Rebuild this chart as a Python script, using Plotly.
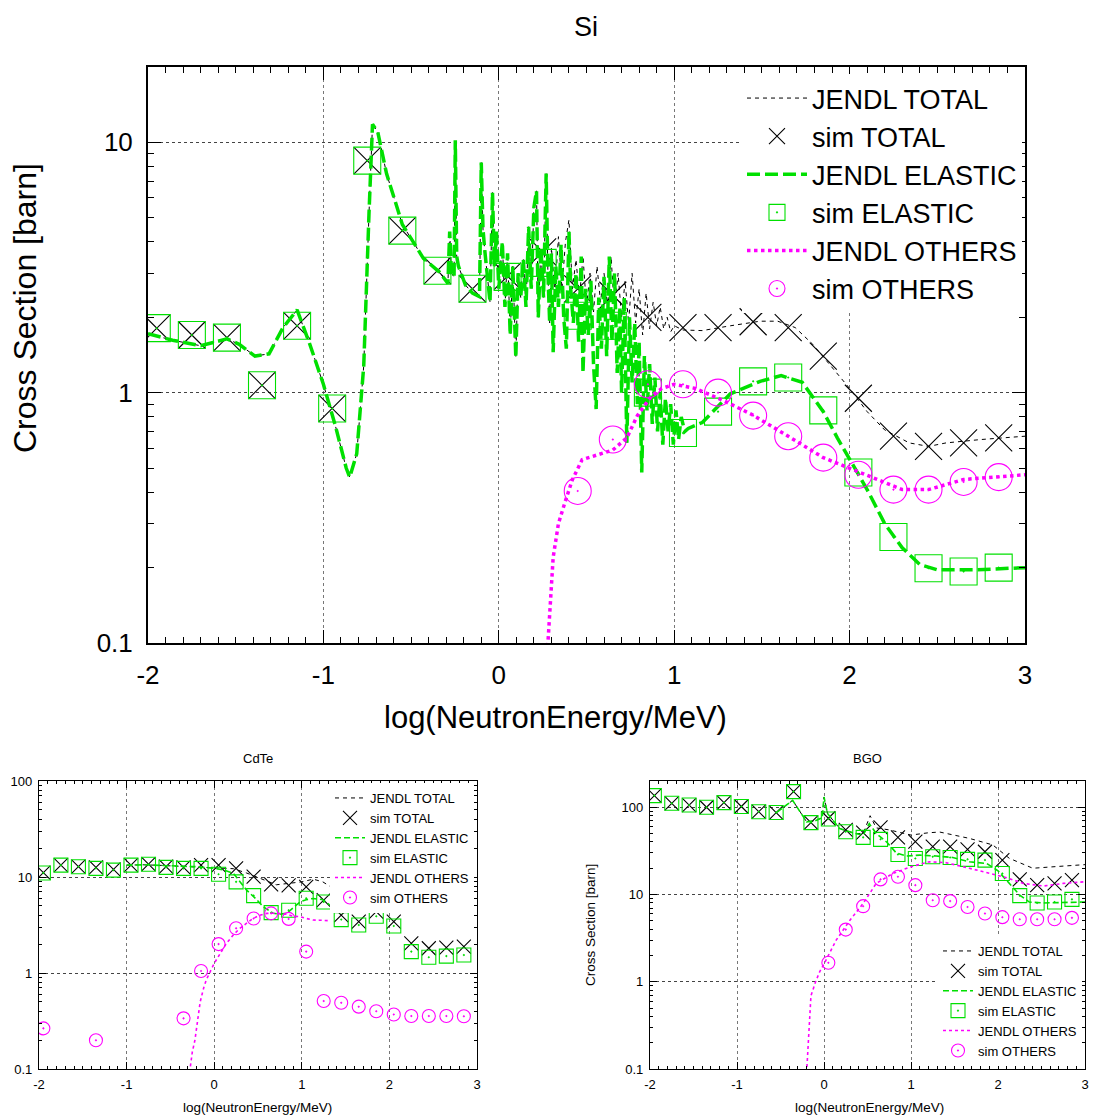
import plotly.graph_objects as go

# ---------------- data ----------------
sim_x = [-1.95, -1.75, -1.55, -1.35, -1.15, -0.95, -0.75, -0.55, -0.35, -0.15,
         0.05, 0.25, 0.45, 0.65, 0.85, 1.05, 1.25, 1.45, 1.65, 1.85,
         2.05, 2.25, 2.45, 2.65, 2.85]
x_tickvals = [-2, -1, 0, 1, 2, 3]
x_ticktext = ["-2", "-1", "0", "1", "2", "3"]
y_tickvals_si = [0.1, 1, 10]
y_ticktext_si = ["0.1", "1", "10"]
y_tickvals_sm = [0.1, 1, 10, 100]
y_ticktext_sm = ["0.1", "1", "10", "100"]
series_names = ["JENDL TOTAL", "sim TOTAL", "JENDL ELASTIC", "sim ELASTIC", "JENDL OTHERS", "sim OTHERS"]
panel_titles = ["Si", "CdTe", "BGO"]
x_title = "log(NeutronEnergy/MeV)"
y_title = "Cross Section [barn]"

# Si
si_sim_total = [1.81, 1.70, 1.66, 1.07, 1.85, 0.865, 8.45, 4.44, 3.07, 2.60,
                2.92, 3.65, 2.60, 2.45, 2.0, 1.82, 1.82, 1.92, 1.82, 1.40,
                0.95, 0.67, 0.61, 0.63, 0.66]
si_sim_elastic = [1.81, 1.70, 1.66, 1.07, 1.85, 0.865, 8.45, 4.44, 3.07, 2.60,
                  2.90, 3.3, 2.03, 1.85, 1.0, 0.69, 0.84, 1.11, 1.15, 0.85,
                  0.48, 0.265, 0.199, 0.193, 0.200]
si_sim_others = [None, None, None, None, None, None, None, None, None, None,
                 None, None, 0.405, 0.65, 1.08, 1.08, 1.0, 0.81, 0.67, 0.55,
                 0.47, 0.41, 0.41, 0.44, 0.46]
si_el_x = [-2.0, -1.86, -1.70, -1.55, -1.48, -1.39, -1.31, -1.23, -1.15, -1.08,
           -1.0, -0.93, -0.87, -0.85, -0.81, -0.77, -0.74, -0.72, -0.69, -0.64,
           -0.55, -0.43, -0.34, -0.29, -0.285, -0.28, -0.27, -0.255, -0.248, -0.24,
           -0.23, -0.19, -0.15, -0.11, -0.10, -0.09, -0.08, -0.06, -0.05, -0.036,
           -0.025, -0.013,
           0.0, 0.02, 0.035, 0.05, 0.065, 0.08, 0.097, 0.11, 0.125, 0.14,
           0.155, 0.17, 0.185, 0.20, 0.215, 0.225, 0.24, 0.255, 0.27, 0.28,
           0.29, 0.30, 0.31, 0.325, 0.34, 0.355, 0.37, 0.385, 0.40, 0.41,
           0.425, 0.44, 0.455, 0.47, 0.48, 0.495, 0.51, 0.525, 0.54, 0.555,
           0.57, 0.585, 0.60, 0.615, 0.63, 0.645, 0.66, 0.675, 0.69, 0.70,
           0.715, 0.73, 0.745, 0.76, 0.775, 0.79, 0.80, 0.815, 0.83, 0.845,
           0.86, 0.875, 0.89, 0.905, 0.92, 0.935, 0.95, 0.965, 0.98, 0.995,
           1.01, 1.025, 1.04, 1.06, 1.08,
           1.16, 1.32, 1.49, 1.61, 1.73, 1.85, 1.93, 2.02, 2.1, 2.2,
           2.3, 2.4, 2.5, 2.71, 3.0]
si_el_y = [1.72, 1.62, 1.54, 1.64, 1.56, 1.40, 1.43, 1.82, 2.14, 1.58,
           1.08, 0.73, 0.50, 0.46, 0.57, 1.28, 5.2, 11.8, 11.0, 7.5,
           4.7, 3.44, 3.04, 2.73, 3.5, 4.4, 3.0, 2.9, 10.2, 3.5,
           3.2, 2.69, 2.5, 2.42, 8.3, 4.5, 3.7, 2.6, 2.3, 6.3,
           3.2, 4.4,
           2.6, 4.0, 2.2, 3.6, 1.7, 3.2, 1.38, 3.0, 2.4, 3.4,
           2.2, 4.6, 2.6, 5.5, 6.4, 2.0, 3.8, 2.4, 7.5, 3.0,
           1.9, 3.6, 1.45, 3.2, 2.2, 3.9, 2.0, 1.5, 4.4, 2.6,
           1.9, 3.0, 1.6, 3.5, 1.2, 2.6, 1.7, 2.8, 1.3, 0.86,
           2.4, 1.5, 2.9, 1.4, 3.5, 1.6, 3.0, 1.2, 2.2, 1.0,
           2.4, 0.63, 2.0, 1.1, 1.9, 0.9, 1.6, 0.48, 1.4, 0.85,
           1.3, 0.75, 1.15, 0.7, 1.0, 0.62, 0.95, 0.7, 0.9, 0.62,
           0.85, 0.65, 0.8, 0.7, 0.72,
           0.76, 0.99, 1.11, 1.17, 1.1, 0.84, 0.66, 0.51, 0.41, 0.30,
           0.24, 0.206, 0.196, 0.196, 0.20]
# below the inelastic threshold the total equals the elastic reading
si_tot_x_high = [0.30, 0.32, 0.34, 0.36, 0.38, 0.40, 0.42, 0.44, 0.46, 0.48,
                 0.50, 0.52, 0.54, 0.56, 0.58, 0.60, 0.62, 0.64, 0.66, 0.68,
                 0.70, 0.72, 0.74, 0.76, 0.78, 0.80, 0.82, 0.84, 0.86, 0.88,
                 0.90, 0.92, 0.94, 0.96, 0.98, 1.0, 1.05,
                 1.16, 1.32, 1.49, 1.59, 1.69, 1.79, 1.89, 2.0, 2.1, 2.2,
                 2.34, 2.45, 2.55, 2.75, 3.0]
si_tot_y_high = [3.8, 2.5, 4.2, 2.6, 4.0, 4.9, 2.6, 3.4, 2.4, 3.5,
                 2.2, 3.0, 2.1, 3.2, 2.3, 3.0, 2.2, 3.5, 2.1, 3.0,
                 2.0, 2.8, 1.9, 3.0, 1.9, 2.6, 1.7, 2.5, 1.8, 2.3,
                 1.85, 2.2, 1.8, 2.0, 1.75, 1.85, 1.78,
                 1.77, 1.85, 1.93, 1.93, 1.82, 1.56, 1.28, 1.04, 0.84, 0.71,
                 0.63, 0.61, 0.63, 0.65, 0.67]
si_tot_x = si_el_x[:63] + si_tot_x_high
si_tot_y = si_el_y[:63] + si_tot_y_high
si_oth_x = [0.26, 0.28, 0.31, 0.34, 0.38, 0.42, 0.475, 0.55, 0.65, 0.73,
            0.79, 0.87, 0.93, 1.0, 1.12, 1.28, 1.44, 1.65, 1.85, 2.06,
            2.3, 2.45, 2.65, 3.0]
si_oth_y = [0.08, 0.1, 0.22, 0.3, 0.37, 0.45, 0.54, 0.56, 0.59, 0.66,
            0.81, 0.97, 1.04, 1.08, 1.04, 0.93, 0.82, 0.67, 0.55, 0.48,
            0.41, 0.41, 0.45, 0.47]

# CdTe
cd_sim_total = [11.1, 13.3, 12.8, 12.6, 12.0, 13.3, 13.6, 12.8, 12.6, 13.3,
                13.3, 12.3, 10.1, 8.4, 8.2, 7.9, 5.75, 4.0, 3.43, 4.35,
                3.43, 2.04, 1.81, 1.84, 1.88]
cd_sim_elastic = [11.0, 13.3, 12.8, 12.3, 11.8, 13.3, 13.6, 12.6, 12.3, 12.3,
                  10.7, 8.9, 6.4, 4.25, 4.5, 6.0, 5.5, 3.6, 3.16, 3.9,
                  3.09, 1.67, 1.46, 1.50, 1.54]
cd_sim_others = [0.265, None, None, 0.199, None, None, None, None, 0.337, 1.05,
                 2.0, 2.92, 3.7, 4.18, 3.66, 1.67, 0.51, 0.49, 0.446, 0.40,
                 0.37, 0.356, 0.356, 0.356, 0.354]
cd_tot_x = [-1.0, -0.8, -0.6, -0.4, -0.2, 0.0, 0.1, 0.22, 0.37, 0.52, 0.71, 0.86, 1.0, 1.13, 1.24, 1.32]
cd_tot_y = [13.3, 13.4, 13.2, 13.0, 12.8, 12.4, 12.3, 12.2, 11.0, 9.7, 8.3, 8.6, 8.9, 9.5, 8.9, 8.0]
cd_el_x = [-1.0, -0.8, -0.6, -0.4, -0.2, 0.0, 0.1, 0.22, 0.37, 0.47,
           0.56, 0.67, 0.75, 0.83, 0.9, 0.98, 1.05, 1.13, 1.24, 1.32]
cd_el_y = [13.3, 13.4, 13.2, 13.0, 12.8, 12.3, 11.9, 10.9, 7.3, 6.0,
           4.9, 4.2, 4.1, 4.2, 4.8, 5.5, 5.8, 5.98, 5.8, 5.1]
cd_oth_x = [-0.29, -0.25, -0.22, -0.19, -0.16, -0.12, -0.09, 0.0, 0.07, 0.14,
            0.22, 0.29, 0.37, 0.445, 0.52, 0.6, 0.7, 0.825, 0.9, 0.98,
            1.05, 1.13, 1.2, 1.32]
cd_oth_y = [0.08, 0.15, 0.2, 0.3, 0.5, 0.7, 0.85, 1.26, 1.6, 2.04,
            2.5, 2.9, 3.3, 3.7, 4.0, 4.18, 4.2, 4.1, 3.9, 3.86,
            3.7, 3.56, 3.55, 3.5]

# BGO
bgo_sim_total = [136, 111, 106, 100, 113, 102, 89, 87, 151, 66.7,
                 74.8, 54.9, 51.1, 58.9, 45.2, 40.3, 35.3, 35.3, 32.9, 30.9,
                 24.8, 14.9, 12.8, 13.4, 14.6]
bgo_sim_elastic = [136, 111, 106, 100, 113, 102, 89, 87, 151, 66.7,
                   73.5, 52.5, 45.2, 42.9, 28.8, 25.9, 27.1, 26.6, 25.3, 24.8,
                   17.4, 9.7, 8.0, 8.2, 8.8]
bgo_sim_others = [None, None, None, None, None, None, None, None, None, None,
                  1.65, 3.96, 7.35, 14.9, 16.0, 12.8, 8.6, 8.4, 7.2, 6.05,
                  5.5, 5.2, 5.2, 5.2, 5.4]
bgo_tot_x = [-0.54, -0.36, -0.2, -0.1, -0.02, 0.0, 0.04, 0.18, 0.36, 0.45,
             0.53, 0.6, 0.75, 1.0, 1.2, 1.33, 1.67, 1.94, 2.13, 2.4, 2.7, 3.0]
bgo_tot_y = [88, 120, 68, 70, 76, 131, 85, 57, 50, 50,
             80, 58, 55, 48, 51, 52, 44, 37, 26, 20, 21, 22]
bgo_el_x = [-0.54, -0.36, -0.2, -0.1, -0.02, 0.0, 0.04, 0.18, 0.36, 0.45,
            0.52, 0.6, 0.72, 0.83, 0.95, 1.1, 1.29, 1.48, 1.67, 1.87,
            2.0, 2.13, 2.25, 2.36, 2.52, 3.0]
bgo_el_y = [88, 120, 68, 70, 76, 131, 85, 57, 50, 48,
            65, 50, 40, 30, 27.6, 28.3, 27.6, 26.6, 23.7, 22.7,
            18.7, 13.4, 9.85, 8.2, 8.0, 8.2]
bgo_oth_x = [-0.2, -0.18, -0.165, -0.15, -0.12, -0.1, -0.05, 0.0, 0.14, 0.3,
             0.45, 0.6, 0.79, 1.0, 1.21, 1.4, 1.67, 1.9, 2.1, 2.29,
             2.52, 2.75, 3.0]
bgo_oth_y = [0.09, 0.2, 0.45, 0.69, 0.85, 0.98, 1.3, 1.6, 3.0, 5.1,
             7.9, 13.4, 17.4, 20.8, 23.7, 23.2, 20, 17.4, 15.6, 13.4,
             12.5, 13.4, 14]

# ---------------- styling ----------------
FONT = "Liberation Sans, Arial, sans-serif"
GREEN = "#00e000"
MAG = "#ff00ff"
OFF = 8  # page body margin
W, H = 1097 - OFF, 1116 - OFF


def px_x(p):
    return (p - OFF) / W


def px_y(p):
    return 1 - (p - OFF) / H


fig = go.Figure()


def add_panel(xa, ya, leg, tot, el, oth, sims, big):
    lw_el = 3.5 if big else 1.6
    lw_oth = 3.5 if big else 1.6
    msz = 27 if big else 14
    msz_c = 27 if big else 13
    fig.add_trace(go.Scatter(x=tot[0], y=tot[1], mode="lines", name=series_names[0],
                             line=dict(color="black", width=1, dash="4px,4px"),
                             xaxis=xa, yaxis=ya, legend=leg))
    fig.add_trace(go.Scatter(x=sim_x, y=sims[0], mode="markers", name=series_names[1],
                             marker=dict(symbol="x-thin-open", size=msz, color="black",
                                         line=dict(color="black", width=1.1)),
                             xaxis=xa, yaxis=ya, legend=leg))
    fig.add_trace(go.Scatter(x=el[0], y=el[1], mode="lines", name=series_names[2],
                             line=dict(color=GREEN, width=lw_el,
                                       dash="13px,5px" if big else "6px,3px"),
                             xaxis=xa, yaxis=ya, legend=leg))
    fig.add_trace(go.Scatter(x=sim_x, y=sims[1], mode="markers", name=series_names[3],
                             marker=dict(symbol="square-open-dot", size=msz, color=GREEN,
                                         line=dict(color=GREEN, width=1.1)),
                             xaxis=xa, yaxis=ya, legend=leg))
    fig.add_trace(go.Scatter(x=oth[0], y=oth[1], mode="lines", name=series_names[4],
                             line=dict(color=MAG, width=lw_oth, dash="dot"),
                             xaxis=xa, yaxis=ya, legend=leg))
    fig.add_trace(go.Scatter(x=sim_x, y=sims[2], mode="markers", name=series_names[5],
                             marker=dict(symbol="circle-open-dot", size=msz_c, color=MAG,
                                         line=dict(color=MAG, width=1.1)),
                             xaxis=xa, yaxis=ya, legend=leg))


add_panel("x", "y", "legend", (si_tot_x, si_tot_y), (si_el_x, si_el_y), (si_oth_x, si_oth_y),
          (si_sim_total, si_sim_elastic, si_sim_others), True)
add_panel("x2", "y2", "legend2", (cd_tot_x, cd_tot_y), (cd_el_x, cd_el_y), (cd_oth_x, cd_oth_y),
          (cd_sim_total, cd_sim_elastic, cd_sim_others), False)
add_panel("x3", "y3", "legend3", (bgo_tot_x, bgo_tot_y), (bgo_el_x, bgo_el_y), (bgo_oth_x, bgo_oth_y),
          (bgo_sim_total, bgo_sim_elastic, bgo_sim_others), False)


def xaxis_style(dom, anchor, big):
    return dict(domain=dom, anchor=anchor, range=[-2, 3], tickmode="array",
                tickvals=x_tickvals, ticktext=x_ticktext,
                showline=True, linecolor="black", linewidth=2 if big else 1.2, mirror="allticks",
                ticks="inside", ticklen=13 if big else 7, tickwidth=1.2, tickcolor="black",
                minor=dict(tick0=0, dtick=0.1, ticks="inside", ticklen=6 if big else 3,
                           tickwidth=1, tickcolor="black", showgrid=False),
                showgrid=True, gridcolor="#777", griddash="dot", gridwidth=1, zeroline=False,
                tickfont=dict(family=FONT, size=26 if big else 13, color="black"),
                ticklabelstandoff=8 if big else 3)


def yaxis_style(dom, anchor, rng, tv, tt, big):
    return dict(domain=dom, anchor=anchor, type="log", range=rng, tickmode="array",
                tickvals=tv, ticktext=tt,
                showline=True, linecolor="black", linewidth=2 if big else 1.2, mirror="allticks",
                ticks="inside", ticklen=13 if big else 7, tickwidth=1.2, tickcolor="black",
                minor=dict(dtick="D1", ticks="inside", ticklen=6 if big else 3,
                           tickwidth=1, tickcolor="black", showgrid=False),
                showgrid=True, gridcolor="#444", griddash="dot", gridwidth=1, zeroline=False,
                tickfont=dict(family=FONT, size=26 if big else 13, color="black"),
                ticklabelstandoff=8 if big else 3)


def ann(text, x, y, size, angle=0):
    return dict(text=text, x=px_x(x), y=px_y(y), xref="paper", yref="paper",
                xanchor="center", yanchor="middle", textangle=angle,
                showarrow=False, font=dict(family=FONT, size=size, color="black"))


layout = dict(
    width=W, height=H, template="none",
    paper_bgcolor="white", plot_bgcolor="white",
    margin=dict(l=0, r=0, t=0, b=0), showlegend=True,
    font=dict(family=FONT, color="black"),
    xaxis=xaxis_style([px_x(148), px_x(1025)], "y", True),
    yaxis=yaxis_style([px_y(643), px_y(67)], "x", [-1, 1.301], y_tickvals_si, y_ticktext_si, True),
    xaxis2=xaxis_style([px_x(39), px_x(477)], "y2", False),
    yaxis2=yaxis_style([px_y(1069), px_y(781)], "x2", [-1, 2], y_tickvals_sm, y_ticktext_sm, False),
    xaxis3=xaxis_style([px_x(650), px_x(1085)], "y3", False),
    yaxis3=yaxis_style([px_y(1069), px_y(781)], "x3", [-1, 2.301], y_tickvals_sm, y_ticktext_sm, False),
    legend=dict(x=px_x(1022), xanchor="right", y=px_y(74), yanchor="top",
                font=dict(family=FONT, size=27, color="black"), bgcolor="white", borderwidth=0,
                itemwidth=60, tracegroupgap=0),
    legend2=dict(x=px_x(474), xanchor="right", y=px_y(783), yanchor="top",
                 font=dict(family=FONT, size=13, color="black"), bgcolor="white", borderwidth=0,
                 tracegroupgap=0),
    legend3=dict(x=px_x(1082), xanchor="right", y=px_y(1066), yanchor="bottom",
                 font=dict(family=FONT, size=13, color="black"), bgcolor="white", borderwidth=0,
                 tracegroupgap=0),
    annotations=[
        ann(panel_titles[0], 586, 27, 27),
        ann(panel_titles[1], 258, 758, 13),
        ann(panel_titles[2], 867, 758, 13),
        ann(x_title, 555, 717, 31),
        ann(y_title, 25, 308, 32, -90),
        ann(x_title, 257, 1107, 13.5),
        ann(x_title, 869, 1107, 13.5),
        ann(y_title, 590, 925, 13.5, -90),
    ],
)
fig.update_layout(**layout)
fig.write_html("out.html")
